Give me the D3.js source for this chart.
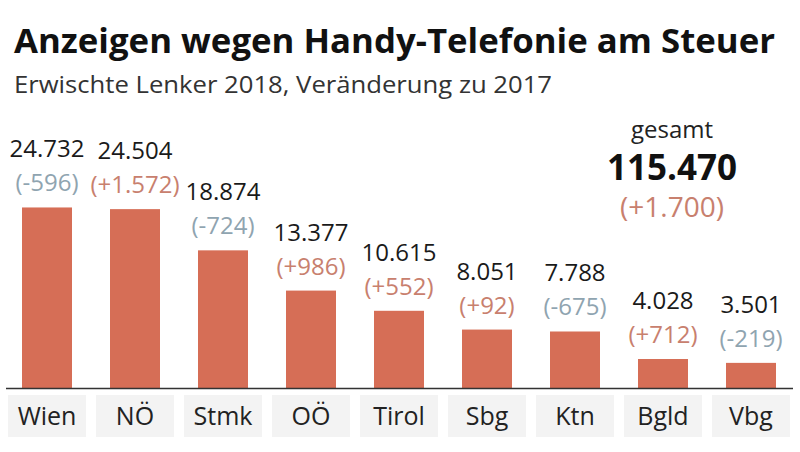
<!DOCTYPE html>
<html><head><meta charset="utf-8">
<script src="https://cdn.jsdelivr.net/npm/d3@7"></script>
<style>html,body{margin:0;padding:0;background:#fff;}svg{display:block;font-family:"Open Sans",sans-serif;}</style>
</head><body>
<script>
const categories = ["Wien","NÖ","Stmk","OÖ","Tirol","Sbg","Ktn","Bgld","Vbg"];
const values2018 = [24732,24504,18874,13377,10615,8051,7788,4028,3501];
const changes = [-596,1572,-724,986,552,92,-675,712,-219];
const totalValue = 115470;
const totalChange = 1700;
const title = "Anzeigen wegen Handy-Telefonie am Steuer";
const subtitle = "Erwischte Lenker 2018, Veränderung zu 2017";

const W = 800, H = 452;
const baseY = 388.5;
const fmt = v => d3.format(",")(Math.abs(v)).replace(/,/g, ".");
const fmtChange = v => "(" + (v >= 0 ? "+" : "-") + fmt(v) + ")";
const barColor = "#d66e56";
const posColor = "#c8806e";
const negColor = "#8fa4b0";

const svg = d3.select("body").append("svg").attr("width", W).attr("height", H);

const x = d3.scaleBand().domain(categories).range([3, 795]).paddingInner(0.432).paddingOuter(0.216);
const y = d3.scaleLinear().domain([0, 25000]).range([baseY, baseY - 183]);

svg.append("text").attr("x", 14).attr("y", 53).text(title)
  .attr("font-size", 34).attr("font-weight", 700).attr("fill", "#111")
  .attr("textLength", 761).attr("lengthAdjust", "spacingAndGlyphs");
svg.append("text").attr("x", 14).attr("y", 93).text(subtitle)
  .attr("font-size", 24).attr("fill", "#333")
  .attr("textLength", 538).attr("lengthAdjust", "spacingAndGlyphs");

// category label boxes
svg.append("g").selectAll("rect").data(categories).join("rect")
  .attr("x", d => x(d) + x.bandwidth()/2 - 39)
  .attr("y", 395).attr("width", 78).attr("height", 42)
  .attr("fill", "#f3f3f3");

const xAxis = d3.axisBottom(x).tickSize(0).tickPadding(0);
const gx = svg.append("g").attr("transform", `translate(0,${baseY})`).call(xAxis);
gx.select(".domain").remove();
gx.selectAll("text").attr("font-size", 25).attr("fill", "#222")
  .attr("font-family", "'Open Sans',sans-serif").attr("dy", null).attr("y", 36.5);

// bars
svg.append("g").selectAll("rect").data(categories).join("rect")
  .attr("x", d => x(d)).attr("width", x.bandwidth())
  .attr("y", (d, i) => y(values2018[i]))
  .attr("height", (d, i) => baseY - y(values2018[i]))
  .attr("fill", barColor);

svg.append("line").attr("x1", 6).attr("x2", 793).attr("y1", baseY).attr("y2", baseY)
  .attr("stroke", "#333").attr("stroke-width", 1.5);

// value labels
svg.append("g").selectAll("text").data(categories).join("text")
  .attr("x", d => x(d) + x.bandwidth()/2)
  .attr("y", (d, i) => y(values2018[i]) - 50)
  .attr("text-anchor", "middle").attr("font-size", 24).attr("fill", "#1a1a1a")
  .text((d, i) => fmt(values2018[i]));
svg.append("g").selectAll("text").data(categories).join("text")
  .attr("x", d => x(d) + x.bandwidth()/2)
  .attr("y", (d, i) => y(values2018[i]) - 16)
  .attr("text-anchor", "middle").attr("font-size", 24)
  .attr("fill", (d, i) => changes[i] >= 0 ? posColor : negColor)
  .text((d, i) => fmtChange(changes[i]));

// total block
const tx = 672;
svg.append("text").attr("x", tx).attr("y", 138).attr("text-anchor", "middle")
  .attr("font-size", 24).attr("fill", "#222").text("gesamt");
svg.append("text").attr("x", tx).attr("y", 180).attr("text-anchor", "middle")
  .attr("font-size", 35).attr("font-weight", 700).attr("fill", "#111").text(fmt(totalValue));
svg.append("text").attr("x", tx).attr("y", 217).attr("text-anchor", "middle")
  .attr("font-size", 28).attr("fill", posColor).text(fmtChange(totalChange));
</script>
</body></html>
